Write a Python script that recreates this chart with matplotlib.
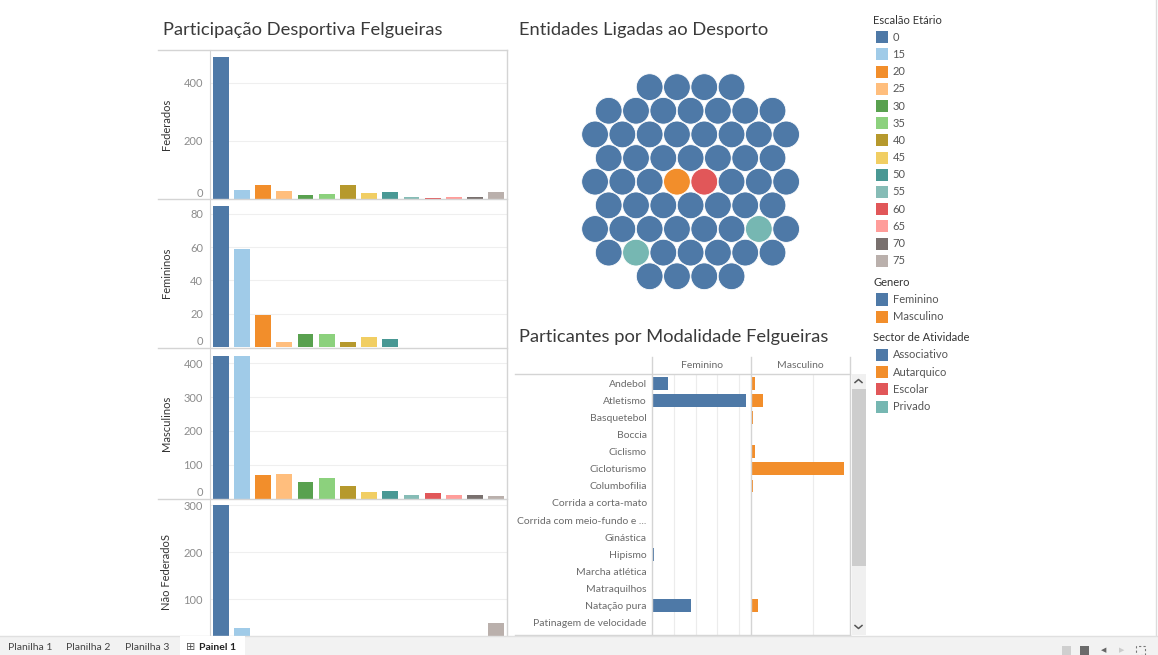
import matplotlib
matplotlib.use('Agg')
import numpy as np
import matplotlib.pyplot as plt
from matplotlib.patches import Rectangle, Circle
from matplotlib.lines import Line2D

plt.rcParams['font.family'] = ['Lato', 'DejaVu Sans']

W, H = 1158, 655

# Escalao etario (idade) e cores
escaloes = ['0', '15', '20', '25', '30', '35', '40', '45', '50', '55', '60', '65', '70', '75']
cores_escalao = ['#4E79A7', '#A0CBE8', '#F28E2B', '#FFBE7D', '#59A14F', '#8CD17D', '#B6992D',
                 '#F1CE63', '#499894', '#86BCB6', '#E15759', '#FF9D9A', '#79706E', '#BAB0AC']

federados = [488, 30, 47, 27, 13, 16, 47, 21, 23, 7, 4, 7, 7, 24]
femininos = [85, 59, 19, 3, 8, 8, 3, 6, 5, 0, 0, 0, 0, 0]
masculinos = [422, 421, 70, 72, 48, 61, 38, 20, 23, 10, 15, 10, 10, 7]
nao_federados = [300, 38, 12, 8, 6, 5, 8, 4, 5, 3, 2, 2, 3, 48]

# Entidades ligadas ao desporto
sectores = ['Associativo', 'Autarquico', 'Escolar', 'Privado']
cores_sector = ['#4E79A7', '#F28E2B', '#E15759', '#76B7B2']
entidades_sector = (['Escolar', 'Autarquico'] + ['Associativo'] * 29 + ['Privado']
                    + ['Associativo'] * 6 + ['Privado'] + ['Associativo'] * 21)

# Participantes por modalidade
modalidades = ['Andebol', 'Atletismo', 'Basquetebol', 'Boccia', 'Ciclismo', 'Cicloturismo',
               'Columbofilia', 'Corrida a corta-mato', 'Corrida com meio-fundo e ...',
               'Ginástica', 'Hipismo', 'Marcha atlética', 'Matraquilhos', 'Natação pura',
               'Patinagem de velocidade']
part_fem = [7, 43, 0, 0, 0, 0, 0, 0, 0, 0, 1, 0, 0, 18, 0]
part_masc = [3, 9, 1, 0, 3, 76, 1, 0, 0, 0, 0, 0, 0, 5, 0]

generos = ['Feminino', 'Masculino']
cores_genero = ['#4E79A7', '#F28E2B']

fig = plt.figure(figsize=(W / 100, H / 100), dpi=100)
fig.patch.set_facecolor('white')


def add_ax(x0, y0, x1, y1):
    return fig.add_axes([x0 / W, 1 - y1 / H, (x1 - x0) / W, (y1 - y0) / H])


def hline(x0, x1, y, color='#d4d4d4', lw=1, z=5):
    fig.add_artist(Line2D([x0 / W, x1 / W], [1 - y / H, 1 - y / H], color=color, lw=lw, zorder=z))


def vline(x, y0, y1, color='#d4d4d4', lw=1, z=5):
    fig.add_artist(Line2D([x / W, x / W], [1 - y0 / H, 1 - y1 / H], color=color, lw=lw, zorder=z))


def ftext(x, y, s, **kw):
    kw.setdefault('va', 'center')
    return fig.text(x / W, 1 - y / H, s, **kw)


# ---------- Participacao Desportiva ----------
ftext(163, 30, 'Participação Desportiva Felgueiras', fontsize=13.2, color='#3a3a3a')

paineis = [
    (federados, 'Federados', 50, 198.7, 513, [0, 200, 400]),
    (femininos, 'Femininos', 199, 347, 89, [0, 20, 40, 60, 80]),
    (masculinos, 'Masculinos', 349, 498.5, 442, [0, 100, 200, 300, 400]),
    (nao_federados, 'Não FederadoS', 499, 646, 313, [100, 200, 300]),
]
x = np.arange(len(escaloes))
for vals, nome, y0, y1, top, ticks in paineis:
    ax = add_ax(210, y0, 507, y1)
    ax.bar(x, vals, width=0.75, color=cores_escalao)
    ax.set_xlim(-0.5, 13.5)
    ax.set_ylim(0, top)
    ax.set_xticks([])
    ax.set_yticks(ticks, [str(t) for t in ticks])
    ax.tick_params(axis='y', length=0, pad=5, labelsize=8, labelcolor='#8c8c8c')
    if ticks[0] == 0:
        ax.get_yticklabels()[0].set_verticalalignment('bottom')
    ax.grid(axis='y', color='#efefef', lw=0.8)
    ax.set_axisbelow(True)
    for s in ['top', 'right', 'bottom']:
        ax.spines[s].set_visible(False)
    ax.spines['left'].set_color('#d4d4d4')
    ax.set_ylabel(nome, fontsize=8, color='#333333')
    ax.yaxis.set_label_coords((172 - 210) / 297, 0.5)

for yy in [50, 199, 348, 498.5]:
    hline(158, 507, yy)
vline(507, 50, 636)

# ---------- Entidades Ligadas ao Desporto ----------
ftext(519, 30, 'Entidades Ligadas ao Desporto', fontsize=13.2, color='#3a3a3a')

bx = add_ax(515, 45, 835, 318)
cx, cy, unit = 690.6, 181.7, 27.3
bx.set_xlim((515 - cx) / unit, (835 - cx) / unit)
bx.set_ylim((cy - 318) / unit, (cy - 45) / unit)
bx.axis('off')

# celulas hexagonais ordenadas pela distancia ao centro
h = np.sqrt(3) / 2
celulas = []
for r in range(-7, 8):
    for c in range(-8, 9):
        px = c + (0.5 if r % 2 == 0 else 0.0)
        py = r * h
        celulas.append((round(px * px + py * py, 6), np.arctan2(py, px), px, py))
celulas.sort()
cor_de = dict(zip(sectores, cores_sector))
for (d2, ang, px, py), sec in zip(celulas, entidades_sector):
    bx.add_patch(Circle((px, py), 0.49, facecolor=cor_de[sec], edgecolor='white', lw=0.6))

# ---------- Participantes por Modalidade ----------
ftext(519, 337, 'Particantes por Modalidade Felgueiras', fontsize=13.2, color='#3a3a3a')

ypos = np.arange(len(modalidades))
fx = add_ax(652.3, 374, 750.7, 635)
mx = add_ax(751.7, 374, 850, 635)
for ax, vals, cor, lim, gt in [(fx, part_fem, cores_genero[0], 45.3, [10, 20, 30, 40]),
                                (mx, part_masc, cores_genero[1], 80.6, [50])]:
    ax.barh(ypos, vals, height=0.74, color=cor)
    ax.set_xlim(0, lim)
    ax.set_ylim(14.72, -0.544)
    ax.set_xticks(gt)
    ax.tick_params(axis='x', length=0, labelbottom=False)
    ax.grid(axis='x', color='#ececec', lw=0.8)
    ax.set_axisbelow(True)
    for s in ax.spines.values():
        s.set_visible(False)
fx.set_yticks(ypos, modalidades)
fx.tick_params(axis='y', length=0, pad=4, labelsize=7.5, labelcolor='#6b6b6b')
mx.set_yticks([])

ftext(701.5, 366, 'Feminino', ha='center', fontsize=7.5, color='#6b6b6b')
ftext(800.8, 366, 'Masculino', ha='center', fontsize=7.5, color='#6b6b6b')
hline(515, 850, 374)
hline(515, 850, 635)
for xx in [652.3, 751.2, 850]:
    vline(xx, 357, 635)

# barra de scroll
fig.add_artist(Rectangle((851.5 / W, 1 - 635 / H), 14 / W, 261 / H, transform=fig.transFigure,
                         facecolor='#f0f0f0', edgecolor='none', zorder=4))
fig.add_artist(Rectangle((851.5 / W, 1 - 566 / H), 14 / W, 177 / H, transform=fig.transFigure,
                         facecolor='#cdcdcd', edgecolor='none', zorder=4))
for yy, sgn in [(381, 1), (627, -1)]:
    fig.add_artist(Line2D([855 / W, 858.5 / W, 862 / W],
                          [1 - (yy + 1.5 * sgn) / H, 1 - (yy - 1.5 * sgn) / H, 1 - (yy + 1.5 * sgn) / H],
                          color='#555555', lw=1.1, zorder=6))

# ---------- Legendas ----------
def legenda(y_titulo, titulo, itens, cores):
    ftext(873, y_titulo, titulo, fontsize=8, color='#333333')
    for i, (it, c) in enumerate(zip(itens, cores)):
        yy = y_titulo + 17.2 * (i + 1)
        fig.add_artist(Rectangle((876 / W, 1 - (yy + 6) / H), 12 / W, 12 / H,
                                 transform=fig.transFigure, facecolor=c, edgecolor='none'))
        ftext(892.5, yy, it, fontsize=8, color='#555555')


legenda(20, 'Escalão Etário', escaloes, cores_escalao)
legenda(282.3, 'Genero', generos, cores_genero)
legenda(337.7, 'Sector de Atividade', sectores, cores_sector)

vline(1156, 0, 636, color='#dcdcdc')

# ---------- Barra de separadores ----------
fig.add_artist(Rectangle((0, 0), 1, 19 / H, transform=fig.transFigure,
                         facecolor='#f2f2f2', edgecolor='none', zorder=10))
hline(0, 1158, 636, color='#e0e0e0', z=11)
fig.add_artist(Rectangle((180 / W, 0), 65 / W, 19 / H, transform=fig.transFigure,
                         facecolor='white', edgecolor='none', zorder=11))
for xt, nome in [(8, 'Planilha 1'), (66, 'Planilha 2'), (125, 'Planilha 3')]:
    ftext(xt, 647, nome, fontsize=7.5, color='#444444', zorder=12)
ftext(186, 647, '⊞', fontsize=8, color='#555555', zorder=12, family=['DejaVu Sans'])
ftext(199, 647, 'Painel 1', fontsize=7.5, color='#222222', weight='bold', zorder=12)

for x0, c in [(1062, '#cfcfcf'), (1080, '#6b6b6b')]:
    fig.add_artist(Rectangle((x0 / W, 0), 9 / W, 9 / H, transform=fig.transFigure,
                             facecolor=c, edgecolor='none', zorder=12))
ftext(1104, 650, '◀', fontsize=5, color='#666666', ha='center', zorder=12, family=['DejaVu Sans'])
ftext(1122, 650, '▶', fontsize=5, color='#cccccc', ha='center', zorder=12, family=['DejaVu Sans'])
fig.add_artist(Rectangle((1136 / W, 0), 9 / W, 9 / H, transform=fig.transFigure,
                         facecolor='none', edgecolor='#777777', lw=0.8, ls=(0, (2, 2)), zorder=12))

fig.savefig('out.png', dpi=100)
